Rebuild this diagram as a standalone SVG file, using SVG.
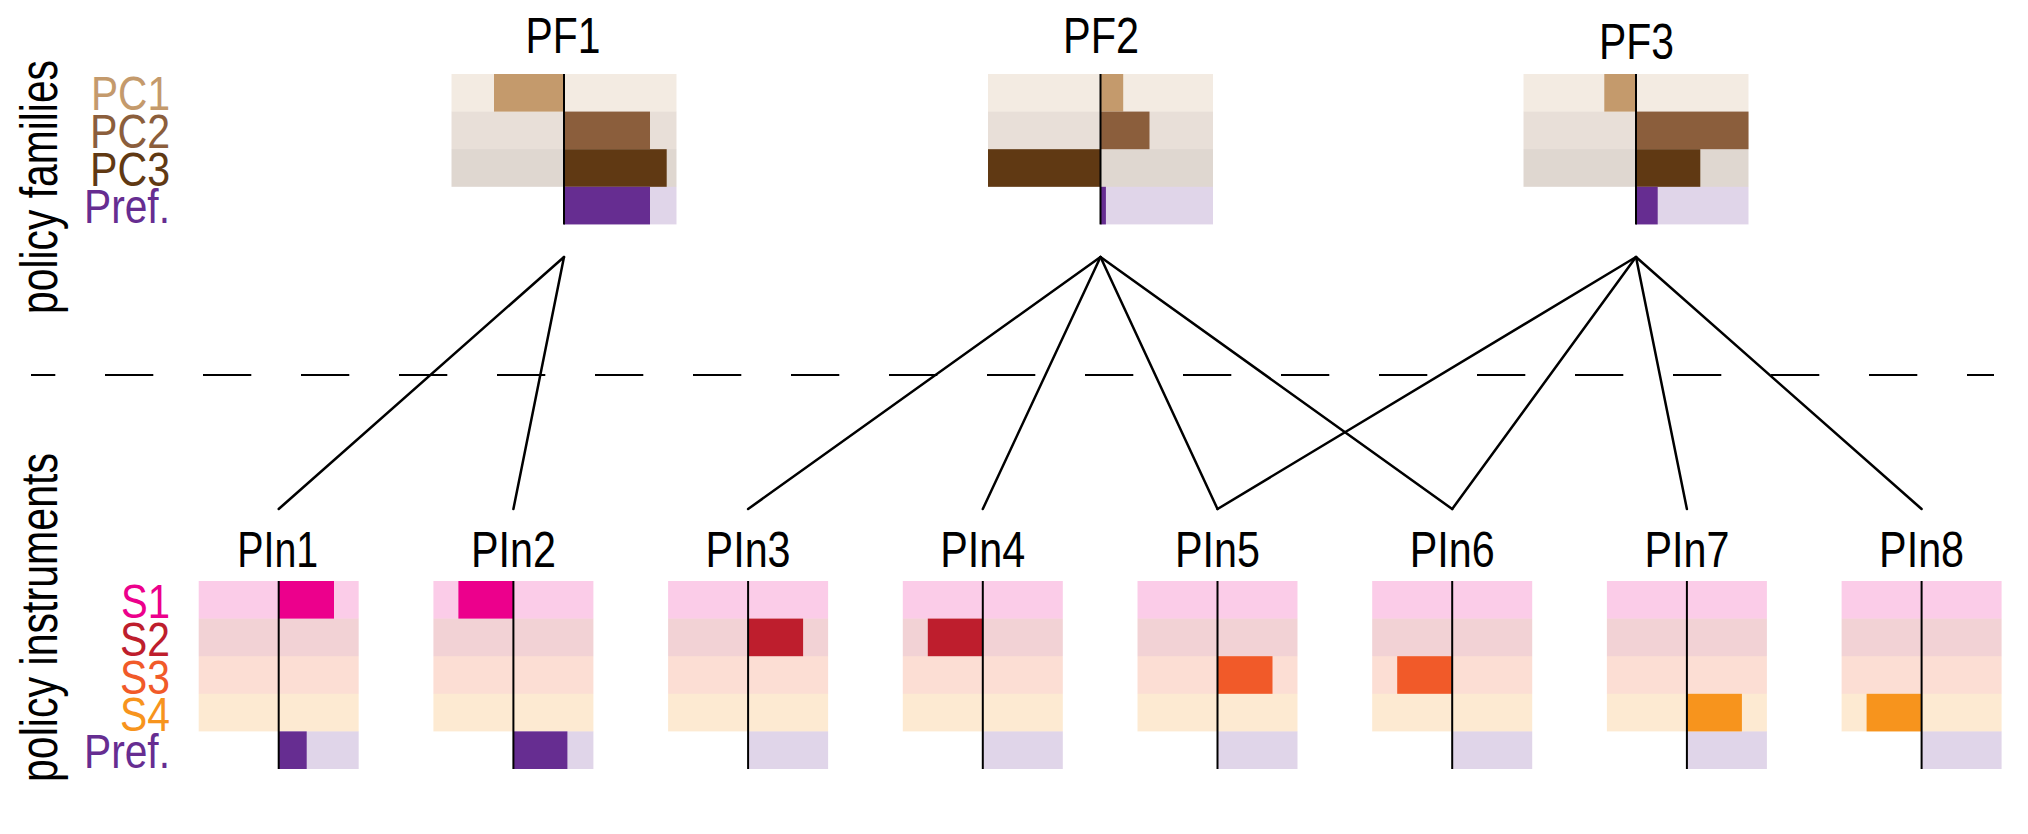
<svg xmlns="http://www.w3.org/2000/svg" width="2028" height="834" viewBox="0 0 2028 834">
<style>
text{font-family:"Liberation Sans",Arial,sans-serif;}
.t{font-size:50px;fill:#000;text-anchor:middle;}
.lb{font-size:48px;text-anchor:end;}
.ax{font-size:51px;fill:#000;text-anchor:middle;}
.cl{stroke:#000;stroke-width:2;}
.con{stroke:#000;stroke-width:2.5;fill:none;stroke-linecap:round;}
.bg{fill-opacity:0.2;}
.pc1{fill:#c49a6c;} .pc2{fill:#8b5e3c;} .pc3{fill:#603913;} .pr{fill:#662d91;}
.s1{fill:#ec008c;} .s2{fill:#be1e2d;} .s3{fill:#f15a29;} .s4{fill:#f7941d;}
</style>
<rect width="2028" height="834" fill="#fff"/>

<g id="axis-labels">
<text class="ax" transform="translate(57,187) rotate(-90)" textLength="254" lengthAdjust="spacingAndGlyphs">policy families</text>
<text class="ax" transform="translate(57,617.5) rotate(-90)" textLength="329" lengthAdjust="spacingAndGlyphs">policy instruments</text>
<text class="lb pc1" x="170" y="110" textLength="79" lengthAdjust="spacingAndGlyphs">PC1</text>
<text class="lb pc2" x="170" y="147.7" textLength="80" lengthAdjust="spacingAndGlyphs">PC2</text>
<text class="lb pc3" x="170" y="185.7" textLength="80" lengthAdjust="spacingAndGlyphs">PC3</text>
<text class="lb pr" x="170" y="222.7" textLength="86" lengthAdjust="spacingAndGlyphs">Pref.</text>
<text class="lb s1" x="170" y="618.3" textLength="49" lengthAdjust="spacingAndGlyphs">S1</text>
<text class="lb s2" x="170" y="656" textLength="50" lengthAdjust="spacingAndGlyphs">S2</text>
<text class="lb s3" x="170" y="693.5" textLength="50" lengthAdjust="spacingAndGlyphs">S3</text>
<text class="lb s4" x="170" y="731" textLength="50" lengthAdjust="spacingAndGlyphs">S4</text>
<text class="lb pr" x="170" y="768" textLength="86" lengthAdjust="spacingAndGlyphs">Pref.</text>
</g>

<line id="divider" x1="31" y1="375" x2="1994" y2="375" stroke="#000" stroke-width="2" stroke-dasharray="48.3 49.7" stroke-dashoffset="24"/>

<g id="connectors">
<line class="con" x1="564" y1="257" x2="278.7" y2="509"/>
<line class="con" x1="564" y1="257" x2="513.4" y2="509"/>
<line class="con" x1="1100.5" y1="257" x2="748.1" y2="509"/>
<line class="con" x1="1100.5" y1="257" x2="982.8" y2="509"/>
<line class="con" x1="1100.5" y1="257" x2="1217.5" y2="509"/>
<line class="con" x1="1100.5" y1="257" x2="1452.2" y2="509"/>
<line class="con" x1="1636" y1="257" x2="1217.5" y2="509"/>
<line class="con" x1="1636" y1="257" x2="1452.2" y2="509"/>
<line class="con" x1="1636" y1="257" x2="1686.9" y2="509"/>
<line class="con" x1="1636" y1="257" x2="1921.6" y2="509"/>
</g>

<g id="pf1" transform="translate(564,0)">
<text class="t" x="-1" y="53.3" textLength="75" lengthAdjust="spacingAndGlyphs">PF1</text>
<rect class="bg pc1" x="-112.5" y="74" width="225" height="37.6"/>
<rect class="bg pc2" x="-112.5" y="111.6" width="225" height="37.6"/>
<rect class="bg pc3" x="-112.5" y="149.2" width="225" height="37.6"/>
<rect class="bg pr" x="0" y="186.8" width="112.5" height="37.6"/>
<rect class="pc1" x="-70" y="74" width="70" height="37.6"/>
<rect class="pc2" x="0" y="111.6" width="86" height="37.6"/>
<rect class="pc3" x="0" y="149.2" width="102.7" height="37.6"/>
<rect class="pr" x="0" y="186.8" width="86" height="37.6"/>
<line class="cl" x1="0" y1="74" x2="0" y2="224.4"/>
</g>

<g id="pf2" transform="translate(1100.5,0)">
<text class="t" x="0.5" y="53.3" textLength="76" lengthAdjust="spacingAndGlyphs">PF2</text>
<rect class="bg pc1" x="-112.5" y="74" width="225" height="37.6"/>
<rect class="bg pc2" x="-112.5" y="111.6" width="225" height="37.6"/>
<rect class="bg pc3" x="-112.5" y="149.2" width="225" height="37.6"/>
<rect class="bg pr" x="0" y="186.8" width="112.5" height="37.6"/>
<rect class="pc1" x="0" y="74" width="22.7" height="37.6"/>
<rect class="pc2" x="0" y="111.6" width="49" height="37.6"/>
<rect class="pc3" x="-112.5" y="149.2" width="112.5" height="37.6"/>
<rect class="pr" x="0" y="186.8" width="5.4" height="37.6"/>
<line class="cl" x1="0" y1="74" x2="0" y2="224.4"/>
</g>

<g id="pf3" transform="translate(1636,0)">
<text class="t" x="0.5" y="59.3" textLength="75" lengthAdjust="spacingAndGlyphs">PF3</text>
<rect class="bg pc1" x="-112.5" y="74" width="225" height="37.6"/>
<rect class="bg pc2" x="-112.5" y="111.6" width="225" height="37.6"/>
<rect class="bg pc3" x="-112.5" y="149.2" width="225" height="37.6"/>
<rect class="bg pr" x="0" y="186.8" width="112.5" height="37.6"/>
<rect class="pc1" x="-31.7" y="74" width="31.7" height="37.6"/>
<rect class="pc2" x="0" y="111.6" width="112.5" height="37.6"/>
<rect class="pc3" x="0" y="149.2" width="64.3" height="37.6"/>
<rect class="pr" x="0" y="186.8" width="21.7" height="37.6"/>
<line class="cl" x1="0" y1="74" x2="0" y2="224.4"/>
</g>

<defs>
<g id="pinbg">
<rect class="bg s1" x="-80" y="581" width="160" height="37.6"/>
<rect class="bg s2" x="-80" y="618.6" width="160" height="37.6"/>
<rect class="bg s3" x="-80" y="656.2" width="160" height="37.6"/>
<rect class="bg s4" x="-80" y="693.8" width="160" height="37.6"/>
<rect class="bg pr" x="0" y="731.4" width="80" height="37.6"/>
</g>
</defs>

<g id="pin1" transform="translate(278.7,0)">
<text class="t" x="-1" y="567" textLength="81" lengthAdjust="spacingAndGlyphs">PIn1</text>
<use href="#pinbg"/>
<rect class="s1" x="0" y="581" width="55.3" height="37.6"/>
<rect class="pr" x="0" y="731.4" width="28" height="37.6"/>
<line class="cl" x1="0" y1="581" x2="0" y2="769"/>
</g>

<g id="pin2" transform="translate(513.4,0)">
<text class="t" x="0" y="567" textLength="85" lengthAdjust="spacingAndGlyphs">PIn2</text>
<use href="#pinbg"/>
<rect class="s1" x="-55" y="581" width="55" height="37.6"/>
<rect class="pr" x="0" y="731.4" width="54" height="37.6"/>
<line class="cl" x1="0" y1="581" x2="0" y2="769"/>
</g>

<g id="pin3" transform="translate(748.1,0)">
<text class="t" x="0" y="567" textLength="85" lengthAdjust="spacingAndGlyphs">PIn3</text>
<use href="#pinbg"/>
<rect class="s2" x="0" y="618.6" width="55" height="37.6"/>
<line class="cl" x1="0" y1="581" x2="0" y2="769"/>
</g>

<g id="pin4" transform="translate(982.8,0)">
<text class="t" x="0" y="567" textLength="85" lengthAdjust="spacingAndGlyphs">PIn4</text>
<use href="#pinbg"/>
<rect class="s2" x="-55" y="618.6" width="55" height="37.6"/>
<line class="cl" x1="0" y1="581" x2="0" y2="769"/>
</g>

<g id="pin5" transform="translate(1217.5,0)">
<text class="t" x="0" y="567" textLength="85" lengthAdjust="spacingAndGlyphs">PIn5</text>
<use href="#pinbg"/>
<rect class="s3" x="0" y="656.2" width="55" height="37.6"/>
<line class="cl" x1="0" y1="581" x2="0" y2="769"/>
</g>

<g id="pin6" transform="translate(1452.2,0)">
<text class="t" x="0" y="567" textLength="85" lengthAdjust="spacingAndGlyphs">PIn6</text>
<use href="#pinbg"/>
<rect class="s3" x="-55" y="656.2" width="55" height="37.6"/>
<line class="cl" x1="0" y1="581" x2="0" y2="769"/>
</g>

<g id="pin7" transform="translate(1686.9,0)">
<text class="t" x="0" y="567" textLength="85" lengthAdjust="spacingAndGlyphs">PIn7</text>
<use href="#pinbg"/>
<rect class="s4" x="0" y="693.8" width="55" height="37.6"/>
<line class="cl" x1="0" y1="581" x2="0" y2="769"/>
</g>

<g id="pin8" transform="translate(1921.6,0)">
<text class="t" x="0" y="567" textLength="85" lengthAdjust="spacingAndGlyphs">PIn8</text>
<use href="#pinbg"/>
<rect class="s4" x="-55" y="693.8" width="55" height="37.6"/>
<line class="cl" x1="0" y1="581" x2="0" y2="769"/>
</g>
</svg>
